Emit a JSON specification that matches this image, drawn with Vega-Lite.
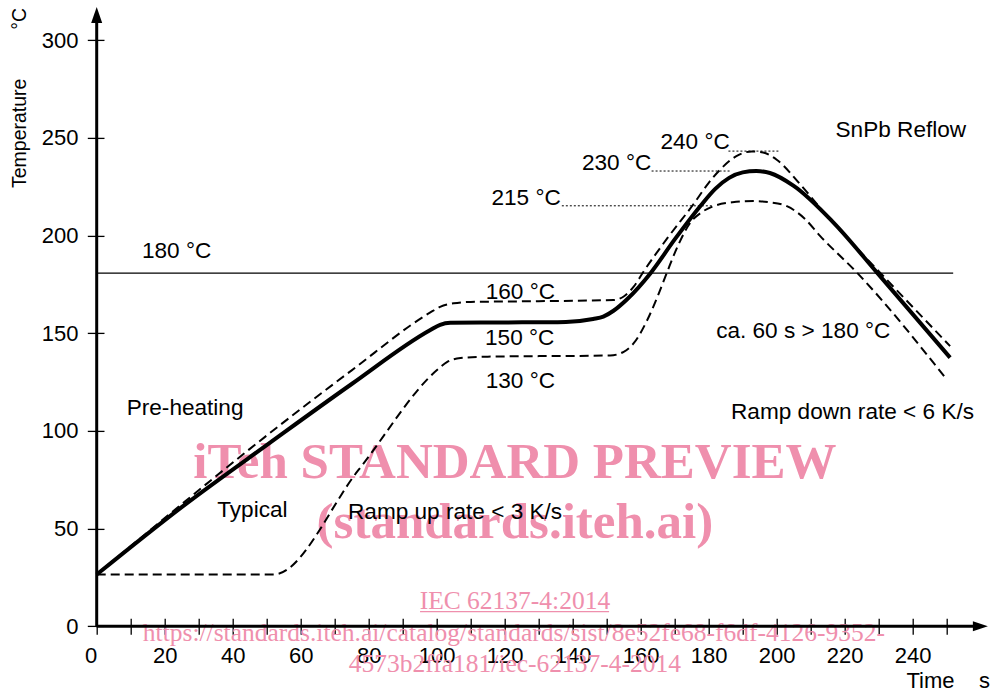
{
  "$schema": "https://vega.github.io/schema/vega-lite/v6.json",
  "width": 891.5,
  "height": 619.4,
  "autosize": {"type": "none"},
  "padding": {"left": 96.7, "top": 6.9, "right": 2.8, "bottom": 65.7},
  "background": "white",
  "config": {"view": {"stroke": null}, "font": "Liberation Sans"},
  "datasets": {
    "curves": [
      {"series": "Typical", "t": 0, "temp": 26.5}, {"series": "Typical", "t": 25, "temp": 61}, {"series": "Typical", "t": 51, "temp": 94}, {"series": "Typical", "t": 75, "temp": 124}, {"series": "Typical", "t": 98, "temp": 151.5}, {"series": "Typical", "t": 101, "temp": 154.3}, {"series": "Typical", "t": 104, "temp": 155.3}, {"series": "Typical", "t": 120, "temp": 155.5}, {"series": "Typical", "t": 138, "temp": 155.8}, {"series": "Typical", "t": 146, "temp": 157.3}, {"series": "Typical", "t": 149, "temp": 158.5}, {"series": "Typical", "t": 152, "temp": 161.5}, {"series": "Typical", "t": 156, "temp": 167.4}, {"series": "Typical", "t": 163, "temp": 181}, {"series": "Typical", "t": 170, "temp": 198}, {"series": "Typical", "t": 177.5, "temp": 215}, {"series": "Typical", "t": 182, "temp": 224}, {"series": "Typical", "t": 186, "temp": 229.5}, {"series": "Typical", "t": 190, "temp": 232.3}, {"series": "Typical", "t": 194, "temp": 233}, {"series": "Typical", "t": 198, "temp": 232}, {"series": "Typical", "t": 205, "temp": 225.4}, {"series": "Typical", "t": 216.7, "temp": 206.6}, {"series": "Typical", "t": 229.5, "temp": 181}, {"series": "Typical", "t": 251, "temp": 137.5},
      {"series": "Upper", "t": 0, "temp": 26.5}, {"series": "Upper", "t": 25, "temp": 62.5}, {"series": "Upper", "t": 51, "temp": 99}, {"series": "Upper", "t": 75, "temp": 131}, {"series": "Upper", "t": 98, "temp": 160.5}, {"series": "Upper", "t": 101, "temp": 163.5}, {"series": "Upper", "t": 105, "temp": 165.3}, {"series": "Upper", "t": 110, "temp": 166}, {"series": "Upper", "t": 130, "temp": 166.4}, {"series": "Upper", "t": 152, "temp": 167}, {"series": "Upper", "t": 155, "temp": 168.8}, {"series": "Upper", "t": 158, "temp": 174}, {"series": "Upper", "t": 161, "temp": 182}, {"series": "Upper", "t": 168, "temp": 199}, {"series": "Upper", "t": 175.5, "temp": 216}, {"series": "Upper", "t": 180, "temp": 227}, {"series": "Upper", "t": 183.4, "temp": 233.8}, {"series": "Upper", "t": 188, "temp": 240.5}, {"series": "Upper", "t": 192.7, "temp": 243}, {"series": "Upper", "t": 196, "temp": 242.5}, {"series": "Upper", "t": 200, "temp": 238.8}, {"series": "Upper", "t": 207, "temp": 226}, {"series": "Upper", "t": 214.8, "temp": 210}, {"series": "Upper", "t": 230.4, "temp": 181}, {"series": "Upper", "t": 251, "temp": 143.4},
      {"series": "Lower", "t": 0, "temp": 26.5}, {"series": "Lower", "t": 52, "temp": 26.5}, {"series": "Lower", "t": 77, "temp": 80}, {"series": "Lower", "t": 100, "temp": 131}, {"series": "Lower", "t": 103, "temp": 135.2}, {"series": "Lower", "t": 107, "temp": 137.3}, {"series": "Lower", "t": 115, "temp": 138}, {"series": "Lower", "t": 151, "temp": 138.6}, {"series": "Lower", "t": 155, "temp": 140.5}, {"series": "Lower", "t": 158, "temp": 145}, {"series": "Lower", "t": 162, "temp": 157}, {"series": "Lower", "t": 165, "temp": 169}, {"series": "Lower", "t": 167.7, "temp": 181}, {"series": "Lower", "t": 171, "temp": 195}, {"series": "Lower", "t": 174.6, "temp": 206.6}, {"series": "Lower", "t": 178, "temp": 212}, {"series": "Lower", "t": 181.4, "temp": 215}, {"series": "Lower", "t": 187, "temp": 217}, {"series": "Lower", "t": 193.2, "temp": 217.6}, {"series": "Lower", "t": 198, "temp": 217}, {"series": "Lower", "t": 203, "temp": 215}, {"series": "Lower", "t": 208, "temp": 209}, {"series": "Lower", "t": 212.8, "temp": 199.7}, {"series": "Lower", "t": 223.6, "temp": 181}, {"series": "Lower", "t": 250, "temp": 126.3}
    ],
    "refs": [
      {"t": 136.8, "t2": 181.4, "temp": 215.2},
      {"t": 163.2, "t2": 186.3, "temp": 233.0},
      {"t": 185.8, "t2": 200.5, "temp": 243.2}
    ],
    "limit": [{"t": 0, "t2": 251.9, "temp": 180.7}],
    "labels": [
      {"text": "180 °C", "t": 23.5, "temp": 192.1},
      {"text": "160 °C", "t": 124.6, "temp": 171.3},
      {"text": "150 °C", "t": 124.4, "temp": 147.4},
      {"text": "130 °C", "t": 124.6, "temp": 125.5},
      {"text": "215 °C", "t": 126.3, "temp": 219.0},
      {"text": "230 °C", "t": 152.9, "temp": 236.9},
      {"text": "240 °C", "t": 176.0, "temp": 247.7},
      {"text": "SnPb Reflow", "t": 236.5, "temp": 254.0},
      {"text": "ca. 60 s > 180 °C", "t": 207.8, "temp": 151.1},
      {"text": "Pre-heating", "t": 26.0, "temp": 111.6},
      {"text": "Typical", "t": 45.8, "temp": 59.5},
      {"text": "Ramp up rate < 3 K/s", "t": 105.4, "temp": 58.5},
      {"text": "Ramp down rate < 6 K/s", "t": 222.3, "temp": 109.7}
    ],
    "wmBig": [
      {"text": "iTeh STANDARD PREVIEW", "t": 123.0, "temp": 75.7},
      {"text": "(standards.iteh.ai)", "t": 123.0, "temp": 45.2}
    ],
    "wmSmall": [
      {"text": "IEC 62137-4:2014", "t": 123.0, "temp": 8.7},
      {"text": "https://standards.iteh.ai/catalog/standards/sist/8e52fe68-f6df-4126-9352-", "t": 122.7, "temp": -7.5},
      {"text": "4573b2ffa181/iec-62137-4-2014", "t": 123.0, "temp": -23.2}
    ],
    "underline": [{"t": 95.1, "t2": 150.7, "temp": 7.5}],
    "xaxis": [{"t": 0, "t2": 259, "temp": 0}],
    "yaxis": [{"t": 0, "temp": 0, "temp2": 312}],
    "xarrow": [{"t": 259.9, "temp": 0}],
    "yarrow": [{"t": 0, "temp": 312.8}]
  },
  "encoding": {
    "x": {
      "field": "t", "type": "quantitative",
      "scale": {"domain": [0, 262.2], "nice": false, "zero": false},
      "axis": {
        "values": [0, 10, 20, 30, 40, 50, 60, 70, 80, 90, 100, 110, 120, 130, 140, 150, 160, 170, 180, 190, 200, 210, 220, 230, 240, 250],
        "labelExpr": "datum.value % 20 === 0 && datum.value <= 240 ? datum.label : ''",
        "domain": false, "grid": false,
        "tickSize": 16, "tickWidth": 1.3, "tickColor": "black",
        "offset": -8,
        "labelFont": "Liberation Sans", "labelFontSize": 22, "labelColor": "black",
        "labelBaseline": "middle", "labelPadding": 20.7,
        "labelFlush": false, "labelOverlap": false,
        "labelOffset": {"condition": {"test": "datum.value === 0", "value": -6}, "value": 0},
        "title": "Time\u00a0\u00a0\u00a0\u00a0s",
        "titleFont": "Liberation Sans", "titleFontSize": 22, "titleFontWeight": "normal", "titleColor": "black",
        "titleX": 851, "titleY": 62, "titleAlign": "center", "titleBaseline": "middle", "titleAnchor": null
      }
    },
    "y": {
      "field": "temp", "type": "quantitative",
      "scale": {"domain": [0, 317], "nice": false, "zero": false},
      "axis": {
        "values": [0, 50, 100, 150, 200, 250, 300],
        "domain": false, "grid": false,
        "tickSize": 16.7, "tickWidth": 1.3, "tickColor": "black",
        "offset": -7.3,
        "labelFont": "Liberation Sans", "labelFontSize": 22, "labelColor": "black",
        "labelBaseline": "middle", "labelPadding": 9.3,
        "labelFlush": false, "labelOverlap": false,
        "title": "Temperature\u00a0\u00a0\u00a0\u00a0\u00a0\u00a0\u00a0\u00a0\u00a0°C",
        "titleFont": "Liberation Sans", "titleFontSize": 19.5, "titleFontWeight": "normal", "titleColor": "black",
        "titleAngle": 270, "titleX": -84.5, "titleY": 90.6, "titleAlign": "center", "titleBaseline": "middle"
      }
    }
  },
  "layer": [
    {
      "data": {"name": "wmBig"},
      "mark": {"type": "text", "font": "Liberation Serif", "fontWeight": "bold", "fontSize": 51, "color": "#ef8fad", "align": "center", "baseline": "alphabetic"},
      "encoding": {"text": {"field": "text"}}
    },
    {
      "data": {"name": "wmSmall"},
      "mark": {"type": "text", "font": "Liberation Serif", "fontSize": 25.5, "color": "#ef8fad", "align": "center", "baseline": "alphabetic"},
      "encoding": {"text": {"field": "text"}}
    },
    {
      "data": {"name": "underline"},
      "mark": {"type": "rule", "color": "#ef8fad", "strokeWidth": 1.3},
      "encoding": {"x2": {"field": "t2"}}
    },
    {
      "data": {"name": "limit"},
      "mark": {"type": "rule", "color": "black", "strokeWidth": 1.3},
      "encoding": {"x2": {"field": "t2"}}
    },
    {
      "data": {"name": "refs"},
      "mark": {"type": "rule", "color": "black", "strokeWidth": 1, "strokeDash": [2, 2]},
      "encoding": {"x2": {"field": "t2"}}
    },
    {
      "data": {"name": "curves"},
      "transform": [{"filter": "datum.series !== 'Typical'"}],
      "mark": {"type": "line", "color": "black", "strokeWidth": 2, "strokeDash": [9, 5], "interpolate": "monotone"},
      "encoding": {"detail": {"field": "series"}}
    },
    {
      "data": {"name": "curves"},
      "transform": [{"filter": "datum.series === 'Typical'"}],
      "mark": {"type": "line", "color": "black", "strokeWidth": 4, "interpolate": "monotone"},
      "encoding": {"detail": {"field": "series"}}
    },
    {
      "data": {"name": "labels"},
      "mark": {"type": "text", "font": "Liberation Sans", "fontSize": 22.6, "color": "black", "align": "center", "baseline": "middle"},
      "encoding": {"text": {"field": "text"}}
    },
    {
      "data": {"name": "xaxis"},
      "mark": {"type": "rule", "color": "black", "strokeWidth": 3},
      "encoding": {"x2": {"field": "t2"}}
    },
    {
      "data": {"name": "yaxis"},
      "mark": {"type": "rule", "color": "black", "strokeWidth": 3},
      "encoding": {"y2": {"field": "temp2"}}
    },
    {
      "data": {"name": "xarrow"},
      "mark": {"type": "point", "filled": true, "color": "black", "opacity": 1, "size": 225, "shape": "M1,0L-1,-0.67L-1,0.67Z"},
      "encoding": {}
    },
    {
      "data": {"name": "yarrow"},
      "mark": {"type": "point", "filled": true, "color": "black", "opacity": 1, "size": 256, "shape": "M0,-1L0.69,1L-0.69,1Z"},
      "encoding": {}
    }
  ]
}
